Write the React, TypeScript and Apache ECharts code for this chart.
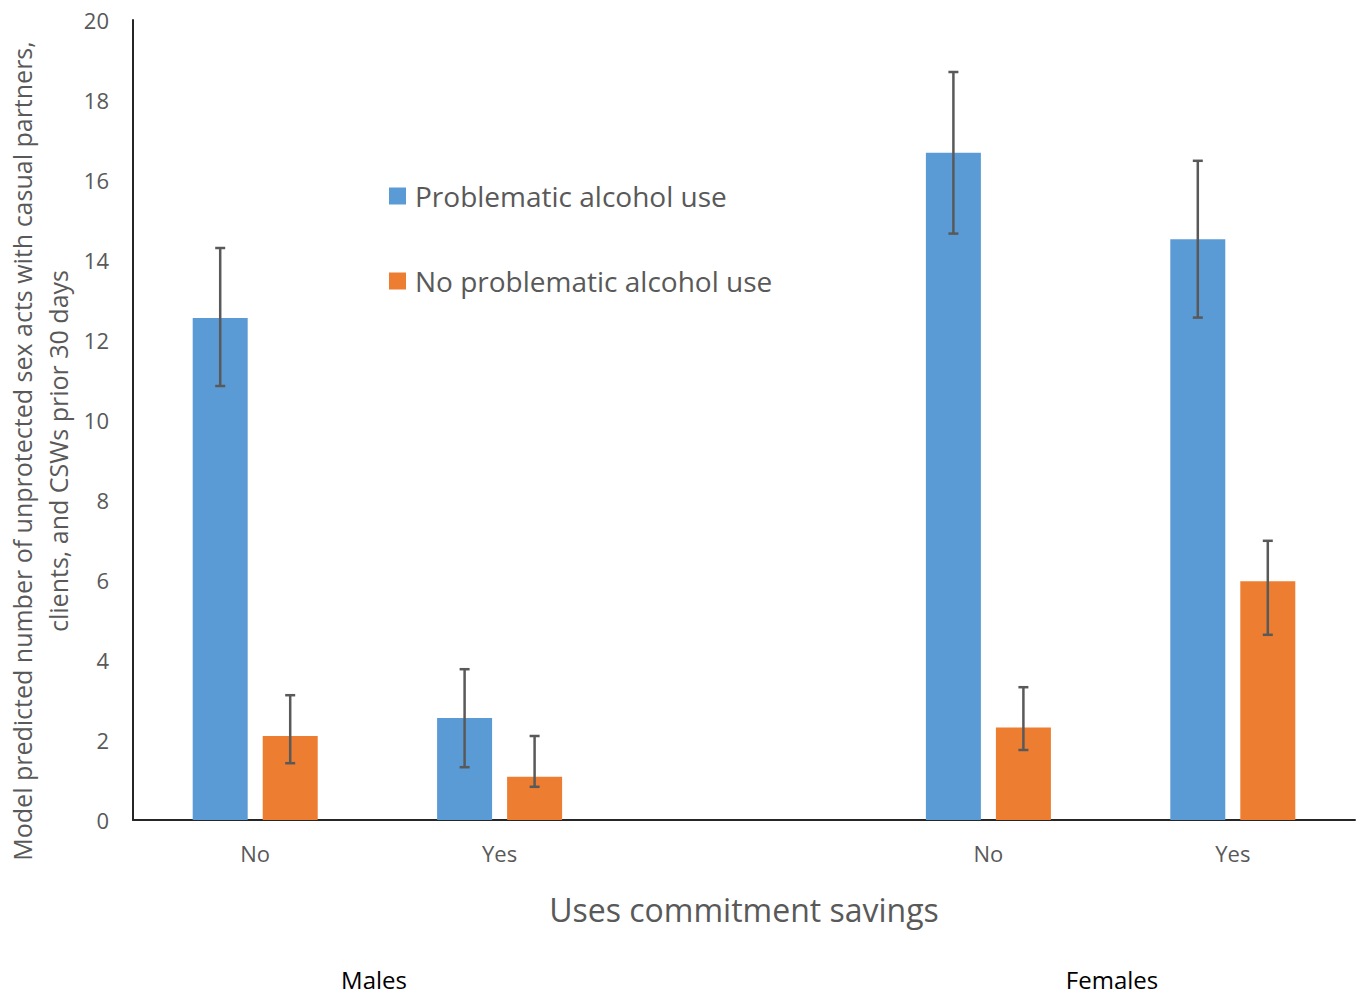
import React, { useEffect, useRef } from "react";
import * as echarts from "echarts";

const categories = ["No", "Yes", "", "No", "Yes"];
const groupLabels = ["Males", "Females"];
const seriesNames = ["Problematic alcohol use", "No problematic alcohol use"];
const problematic = [12.55, 2.55, null, 16.68, 14.52];
const noProblematic = [2.1, 1.08, null, 2.31, 5.97];
const problematicLow = [10.85, 1.32, null, 14.66, 12.56];
const problematicHigh = [14.3, 3.77, null, 18.7, 16.48];
const noProblematicLow = [1.42, 0.83, null, 1.75, 4.63];
const noProblematicHigh = [3.12, 2.1, null, 3.32, 6.98];
const yTicks = { min: 0, max: 20, interval: 2 };

const FONT = "'Open Sans', sans-serif";
const GRAY = "#595959";

function errData(low: (number | null)[], high: (number | null)[]) {
  const out: number[][] = [];
  low.forEach((l, i) => {
    const h = high[i];
    if (l !== null && h !== null) out.push([i, l, h]);
  });
  return out;
}

function errorRender(offset: number) {
  return (params: any, api: any) => {
    const idx = api.value(0);
    const lo = api.coord([idx, api.value(1)]);
    const hi = api.coord([idx, api.value(2)]);
    const x = lo[0] + offset;
    const style = { stroke: GRAY, lineWidth: 2.5 };
    const cap = 5;
    return {
      type: "group",
      children: [
        { type: "line", shape: { x1: x, y1: lo[1], x2: x, y2: hi[1] }, style },
        { type: "line", shape: { x1: x - cap, y1: lo[1], x2: x + cap, y2: lo[1] }, style },
        { type: "line", shape: { x1: x - cap, y1: hi[1], x2: x + cap, y2: hi[1] }, style },
      ],
    };
  };
}

export default function App() {
  const ref = useRef<HTMLDivElement>(null);
  useEffect(() => {
    if (!ref.current) return;
    const chart = echarts.init(ref.current, undefined, { renderer: "svg" });
    chart.setOption({
      animation: false,
      backgroundColor: "#ffffff",
      grid: { left: 133, right: 7, top: 20, bottom: 176 },
      legend: {
        orient: "vertical",
        left: 389,
        top: 179,
        padding: 0,
        itemWidth: 17,
        itemHeight: 17,
        itemGap: 51,
        icon: "rect",
        data: seriesNames,
        textStyle: { fontFamily: FONT, fontSize: 28, color: GRAY, lineHeight: 34, padding: [0, 0, 0, 4] },
      },
      xAxis: {
        type: "category",
        data: categories,
        axisLine: { lineStyle: { color: "#262626", width: 2 } },
        axisTick: { show: false },
        axisLabel: { fontFamily: FONT, fontSize: 22, color: GRAY, margin: 22 },
      },
      yAxis: {
        type: "value",
        min: yTicks.min,
        max: yTicks.max,
        interval: yTicks.interval,
        splitLine: { show: false },
        axisLine: { show: true, lineStyle: { color: "#262626", width: 2 } },
        axisTick: { show: false },
        axisLabel: { fontFamily: FONT, fontSize: 22, color: GRAY, margin: 24 },
      },
      series: [
        {
          name: seriesNames[0],
          type: "bar",
          data: problematic.map((v) => (v === null ? "-" : v)),
          barWidth: 55,
          barGap: "27.3%",
          itemStyle: { color: "#5B9BD5" },
        },
        {
          name: seriesNames[1],
          type: "bar",
          data: noProblematic.map((v) => (v === null ? "-" : v)),
          barWidth: 55,
          barGap: "27.3%",
          itemStyle: { color: "#ED7D31" },
        },
        {
          type: "custom",
          renderItem: errorRender(-35),
          data: errData(problematicLow, problematicHigh),
          encode: { x: 0, y: [1, 2] },
          z: 5,
        },
        {
          type: "custom",
          renderItem: errorRender(35),
          data: errData(noProblematicLow, noProblematicHigh),
          encode: { x: 0, y: [1, 2] },
          z: 5,
        },
      ],
      graphic: [
        {
          type: "text",
          x: 744,
          y: 909,
          style: { text: "Uses commitment savings", font: `32px ${FONT}`, fill: GRAY, textAlign: "center", textVerticalAlign: "middle" },
        },
        {
          type: "text",
          x: 374,
          y: 979,
          style: { text: groupLabels[0], font: `24px ${FONT}`, fill: "#000000", textAlign: "center", textVerticalAlign: "middle" },
        },
        {
          type: "text",
          x: 1112,
          y: 979,
          style: { text: groupLabels[1], font: `24px ${FONT}`, fill: "#000000", textAlign: "center", textVerticalAlign: "middle" },
        },
        {
          type: "text",
          x: 22,
          y: 451,
          rotation: Math.PI / 2,
          style: {
            text: "Model predicted number of unprotected sex acts with casual partners,",
            font: `25px ${FONT}`,
            fill: GRAY,
            textAlign: "center",
            textVerticalAlign: "middle",
          },
        },
        {
          type: "text",
          x: 58,
          y: 451,
          rotation: Math.PI / 2,
          style: {
            text: "clients, and CSWs prior 30 days",
            font: `25px ${FONT}`,
            fill: GRAY,
            textAlign: "center",
            textVerticalAlign: "middle",
          },
        },
      ],
    });
    return () => chart.dispose();
  }, []);
  return <div ref={ref} style={{ position: "fixed", left: 0, top: 0, width: 1362, height: 996 }} />;
}
